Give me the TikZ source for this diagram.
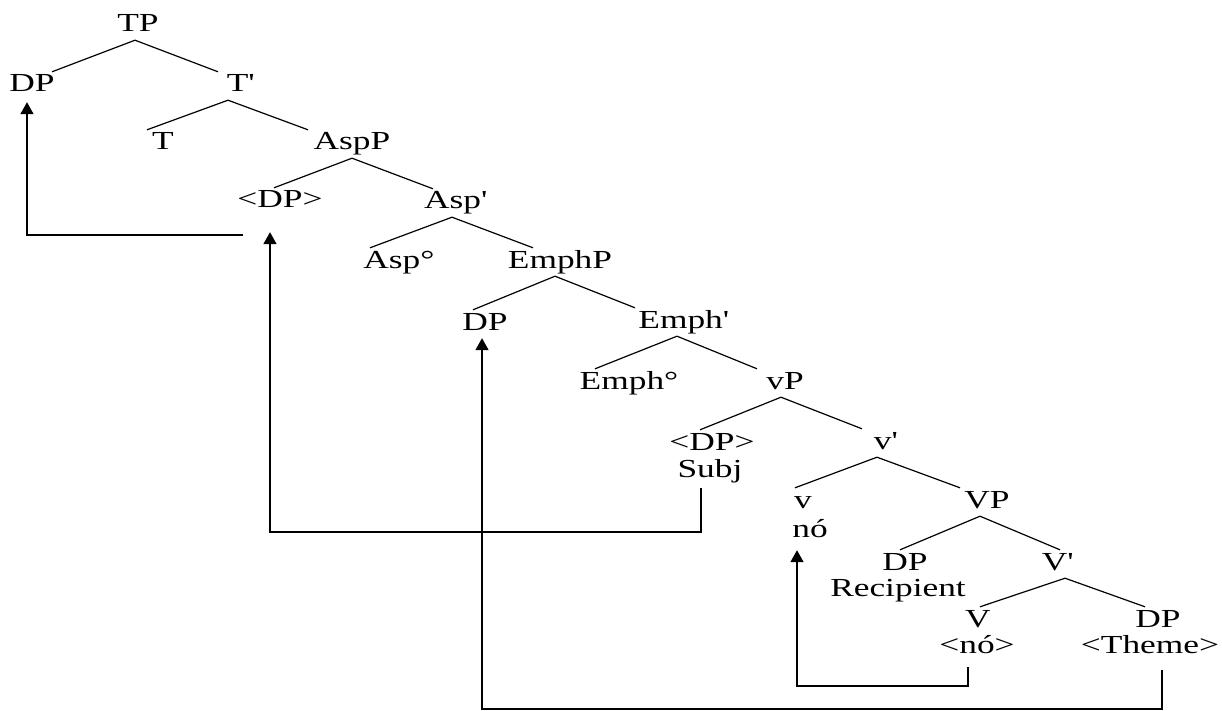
\documentclass[tikz,border=0pt]{standalone}
\usepackage{fontspec}
\setmainfont[FakeStretch=1.36]{Liberation Serif}
\usetikzlibrary{arrows.meta}
\newcommand{\pr}{\textquotesingle}

\begin{document}
\begin{tikzpicture}[x=1pt,y=-1pt]
\useasboundingbox (0,0) rectangle (1222,711);
\begin{scope}[every node/.style={font=\fontsize{26}{30}\selectfont,text height=18pt,text depth=6pt,inner sep=2pt,anchor=base}]
    \node (TP) at (138,32) {TP};
    \node (DP) at (32,92) {DP};
    \node (Tbar) at (240,92) {T\pr};
    \node (T) at (163,150) {T};
    \node (AspP) at (352,150) {AspP};
    \node (DPtraceA) at (280,208) {<DP>};
    \node (Aspbar) at (455,209) {Asp\pr};
    \node (Asp) at (399,268) {Asp°};
    \node (EmphP) at (560,268) {EmphP};
    \node (DPemph) at (485,330) {DP};
    \node (Emphbar) at (683,328) {Emph\pr};
    \node (Emph) at (629,389) {Emph°};
    \node (vP) at (785,389) {vP};
    \node (DPsubj) at (712,450) {<DP>};
    \node (Subj) at (710,477) {Subj};
    \node (vbar) at (885,449) {v\pr};
    \node (v) at (803,508) {v};
    \node (no) at (810,537) {nó};
    \node (VP) at (987,508) {VP};
    \node (DPrec) at (905,570) {DP};
    \node (Recipient) at (898,596) {Recipient};
    \node (Vbar) at (1057,570) {V\pr};
    \node (V) at (978,627) {V};
    \node (noTrace) at (977,653) {<nó>};
    \node (DPtheme) at (1158,627) {DP};
    \node (Theme) at (1150,653) {<Theme>};
    \end{scope}

\coordinate (TraceFoot) at (243,235);

\begin{scope}[line width=1.2pt]
    \draw ([xshift=-3pt]TP.south) -- ([xshift=20pt]DP.north);
    \draw ([xshift=-3pt]TP.south) -- ([xshift=-22pt]Tbar.north);
    \draw ([xshift=-12pt]Tbar.south) -- ([xshift=-16pt]T.north);
    \draw ([xshift=-12pt]Tbar.south) -- ([xshift=-44pt]AspP.north);
    \draw (AspP.south) -- ([xshift=-6pt]DPtraceA.north);
    \draw (AspP.south) -- ([xshift=-22pt]Aspbar.north);
    \draw ([xshift=-3pt]Aspbar.south) -- ([xshift=-29pt]Asp.north);
    \draw ([xshift=-3pt]Aspbar.south) -- ([xshift=-27pt]EmphP.north);
    \draw ([xshift=-5pt]EmphP.south) -- ([xshift=-12pt]DPemph.north);
    \draw ([xshift=-5pt]EmphP.south) -- ([xshift=-48pt]Emphbar.north);
    \draw ([xshift=-6pt]Emphbar.south) -- ([xshift=-34pt]Emph.north);
    \draw ([xshift=-6pt]Emphbar.south) -- ([xshift=-28pt]vP.north);
    \draw ([xshift=-4pt]vP.south) -- ([xshift=-12pt]DPsubj.north);
    \draw ([xshift=-4pt]vP.south) -- ([xshift=-23pt]vbar.north);
    \draw ([xshift=-8pt]vbar.south) -- ([xshift=-8pt]v.north);
    \draw ([xshift=-8pt]vbar.south) -- ([xshift=-27pt]VP.north);
    \draw ([xshift=-7pt]VP.south) -- ([xshift=-5pt]DPrec.north);
    \draw ([xshift=-7pt]VP.south) -- ([xshift=3pt]Vbar.north);
    \draw ([xshift=8pt]Vbar.south) -- ([xshift=2pt]V.north);
    \draw ([xshift=8pt]Vbar.south) -- ([xshift=-13pt]DPtheme.north);
    \end{scope}

\begin{scope}[>={Triangle[length=12pt,width=13pt]}, line width=1.6pt]
    \draw [->,shorten >=2pt] (TraceFoot) -| ([xshift=-5pt]DP.south);
    \draw [->,shorten <=3pt,shorten >=16pt] ([xshift=-9pt]Subj.south) -- ++(0,47) -| ([xshift=-10pt]DPtraceA.south);
    \draw [->,shorten <=9pt] ([xshift=12pt]Theme.south) -- ++(0,48) -| ([xshift=-3pt]DPemph.south);
    \draw [->,shorten <=6pt,shorten >=5pt] ([xshift=-9pt]noTrace.south) -- ++(0,25) -| ([xshift=-13pt]no.south);
    \end{scope}

\end{tikzpicture}
\end{document}
